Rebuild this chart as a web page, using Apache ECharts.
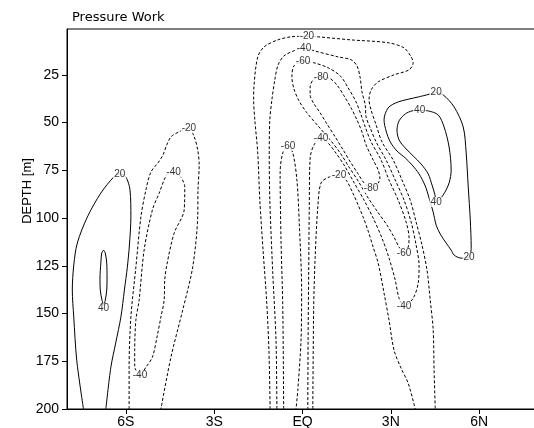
<!DOCTYPE html>
<html>
<head>
<meta charset="utf-8">
<script src="https://cdn.jsdelivr.net/npm/echarts@6/dist/echarts.min.js"></script>
<style>
html, body { margin: 0; padding: 0; background: #fff; }
#chart { width: 534px; height: 428px; }
</style>
</head>
<body>
<div id="chart"></div>
<script>
// tick positions
const latTicks = [-6, -3, 0, 3, 6];
const depthTicks = [25, 50, 75, 100, 125, 150, 175, 200];

// contour lines, [latitude, depth]
const pos20West = [[-7.44,200],[-7.67,174.4],[-7.77,151.9],[-7.82,137.7],[-7.77,124.6],[-7.65,113.1],[-7.31,99.5],[-6.85,86.9],[-6.41,78.5],[-6.21,76.9],[-6.00,78.5],[-5.86,85.3],[-5.83,99.5],[-5.88,114.1],[-5.95,125.7],[-6.05,137.7],[-6.17,151.9],[-6.34,165.0],[-6.51,178.1],[-6.68,200]];
const pos40West = [[-6.76,116.8],[-6.70,118.3],[-6.65,123.6],[-6.64,131.4],[-6.65,137.7],[-6.70,143.0],[-6.75,145.6],[-6.81,143.0],[-6.87,137.7],[-6.88,131.4],[-6.85,123.6],[-6.82,118.3],[-6.76,116.8]];
const neg20West = [[-5.89,200],[-5.89,178.1],[-5.83,151.9],[-5.66,125.7],[-5.49,99.5],[-5.32,85.3],[-5.15,75.9],[-4.91,71.1],[-4.74,67.0],[-4.61,61.7],[-4.47,57.5],[-4.20,54.9],[-3.86,53.0],[-3.68,57.4],[-3.56,64.3],[-3.51,72.2],[-3.55,85.3],[-3.56,99.5],[-3.73,125.7],[-4.07,148.2],[-4.47,172.9],[-4.81,200]];
const neg40West = [[-4.38,76.2],[-4.61,77.4],[-4.87,87.0],[-5.10,95.8],[-5.38,116.8],[-5.55,143.0],[-5.66,153.5],[-5.70,169.2],[-5.70,177.6],[-5.52,182.3],[-5.32,178.1],[-5.10,172.9],[-4.93,161.3],[-4.81,151.9],[-4.70,143.0],[-4.68,132.5],[-4.61,124.6],[-4.36,107.9],[-4.02,95.8],[-4.00,83.7],[-4.19,77.4],[-4.38,76.2]];

const neg20Outer = [[-1.10,200],[-1.14,169.2],[-1.22,143.0],[-1.34,116.8],[-1.45,90.6],[-1.52,65.9],[-1.62,48.6],[-1.66,38.1],[-1.65,31.3],[-1.52,15.6],[-1.30,10.3],[-0.84,6.7],[-0.39,5.1],[0.15,4.8],[0.53,5.1],[1.65,6.7],[2.91,8.2],[3.45,10.9],[3.69,15.6],[3.76,18.7],[3.62,22.4],[3.11,25.0],[2.57,28.7],[2.33,32.9],[2.26,38.1],[2.33,43.4],[2.50,51.2],[2.70,60.1],[3.08,69.6],[3.38,80.1],[3.66,90.6],[3.86,102.1],[4.06,114.2],[4.23,127.3],[4.34,143.0],[4.44,158.7],[4.47,179.7],[4.51,200]];
const neg40Main = [[-0.87,200],[-0.90,164.0],[-1.01,128.8],[-1.11,90.6],[-1.13,64.3],[-1.11,48.6],[-1.04,38.1],[-0.94,27.6],[-0.83,19.8],[-0.63,15.1],[-0.29,12.4],[0.05,10.9],[0.39,12.4],[1.21,15.6],[1.65,17.1],[1.85,20.3],[1.96,26.6],[2.02,33.9],[2.13,40.7],[2.16,47.0],[2.30,52.8],[2.50,60.1],[2.84,69.6],[3.15,80.1],[3.45,90.6],[3.69,102.1],[3.86,114.2],[3.96,124.7],[3.93,134.1],[3.76,142.0],[3.45,146.2],[3.28,142.0],[3.15,132.5],[2.94,121.0],[2.70,110.5],[2.40,100.0],[2.09,90.6],[1.72,80.6],[1.41,72.2],[1.11,65.4],[0.87,60.7],[0.63,58.1],[0.39,61.7],[0.26,68.5],[0.23,94.2],[0.21,128.8],[0.19,164.0],[0.18,200]];
const neg60Arch = [[-0.64,200],[-0.67,146.7],[-0.73,111.5],[-0.76,76.4],[-0.67,65.9],[-0.49,62.2],[-0.33,65.9],[-0.19,80.1],[-0.11,102.6],[-0.03,137.8],[-0.05,164.0],[-0.16,190.2],[-0.22,200]];
const neg60Loop = [[0.02,17.7],[0.39,18.7],[0.87,21.3],[1.28,25.5],[1.55,31.8],[1.82,39.2],[1.99,46.0],[2.13,52.3],[2.33,60.1],[2.67,69.6],[2.94,80.1],[3.25,90.6],[3.52,102.1],[3.62,110.5],[3.59,115.2],[3.45,118.4],[3.28,115.2],[3.11,110.0],[2.87,103.7],[2.53,96.3],[2.19,88.5],[1.89,80.6],[1.58,73.3],[1.28,65.9],[0.94,59.1],[0.53,51.8],[0.15,44.9],[-0.12,38.6],[-0.29,32.4],[-0.36,26.1],[-0.29,20.3],[0.02,17.7]];
const neg80Loop = [[0.63,26.1],[0.90,26.6],[1.17,30.3],[1.41,36.0],[1.65,42.3],[1.85,48.6],[2.02,54.9],[2.16,61.7],[2.40,69.6],[2.57,74.8],[2.63,79.1],[2.53,82.7],[2.33,84.3],[2.09,81.6],[1.89,76.9],[1.65,71.2],[1.38,64.3],[1.11,57.5],[0.83,50.7],[0.60,44.9],[0.39,40.2],[0.26,35.5],[0.26,31.3],[0.39,27.1],[0.63,26.1]];
const neg20Inner = [[0.35,200],[0.38,146.7],[0.43,120.5],[0.52,94.2],[0.63,81.6],[0.91,78.5],[1.24,77.5],[1.48,80.1],[1.71,86.9],[1.89,93.2],[2.06,99.5],[2.23,106.8],[2.40,115.2],[2.57,123.6],[2.77,139.3],[2.94,153.5],[3.11,169.2],[3.35,178.7],[3.59,186.5],[3.83,200]];

const pos20East = [[4.54,34.3],[3.93,36.6],[3.25,39.2],[2.91,42.3],[2.77,48.6],[2.84,54.4],[2.98,60.1],[3.21,64.9],[3.49,68.5],[3.72,72.2],[3.96,76.9],[4.17,83.2],[4.30,89.5],[4.44,96.9],[4.54,103.7],[4.68,108.4],[4.88,113.1],[5.05,116.8],[5.15,119.4],[5.39,121.0],[5.66,120.5],[5.73,115.2],[5.70,101.1],[5.63,83.7],[5.56,65.9],[5.46,52.3],[5.15,41.8],[4.78,35.5],[4.54,34.3]];
const pos40East = [[3.98,43.6],[4.27,43.9],[4.61,46.0],[4.81,52.3],[4.98,62.8],[5.05,74.8],[4.98,81.6],[4.78,87.9],[4.54,91.6],[4.50,87.9],[4.40,82.7],[4.27,76.9],[4.03,71.7],[3.76,67.5],[3.49,63.3],[3.28,59.1],[3.21,53.9],[3.28,49.1],[3.49,45.5],[3.72,43.9],[3.98,43.6]];

// contour labels, [latitude, depth, text]
const contourLabels = [
    [-6.21, 76.9, '20'], [-6.76, 147.4, '40'], [-3.86, 53.0, '-20'], [-4.38, 76.2, '-40'], [-5.52, 182.3, '-40'],
    [0.15, 4.8, '-20'], [0.05, 10.9, '-40'], [0.02, 17.7, '-60'], [0.63, 26.1, '-80'],
    [-0.49, 62.2, '-60'], [0.63, 58.1, '-40'], [1.24, 77.5, '-20'], [2.33, 84.3, '-80'],
    [3.45, 118.4, '-60'], [3.45, 146.2, '-40'],
    [4.54, 34.3, '20'], [3.98, 43.6, '40'], [4.54, 91.6, '40'], [5.66, 120.5, '20']
];

const solidLines = [pos20West, pos40West, pos20East, pos40East];
const dashedLines = [neg20West, neg40West, neg20Outer, neg40Main, neg60Arch, neg60Loop, neg80Loop, neg20Inner];

const FONT = 'Liberation Sans, Arial, sans-serif';

function latName(v) {
    if (v === 0) return 'EQ';
    return Math.abs(v) + (v < 0 ? 'S' : 'N');
}

function lineSeries(pts, dashed) {
    return {
        type: 'line',
        data: pts,
        showSymbol: false,
        smooth: 0.3,
        silent: true,
        z: 2,
        lineStyle: { color: '#000', width: 1, type: dashed ? [3, 2] : 'solid' }
    };
}

const chart = echarts.init(document.getElementById('chart'), null, { renderer: 'canvas' });

const series = solidLines.map(p => lineSeries(p, false))
    .concat(dashedLines.map(p => lineSeries(p, true)));

series.push({
    type: 'scatter',
    data: contourLabels,
    symbolSize: 1,
    itemStyle: { color: 'rgba(0,0,0,0)' },
    silent: true,
    z: 5,
    label: {
        show: true,
        position: 'inside',
        formatter: p => p.data[2],
        fontSize: 10,
        fontFamily: FONT,
        color: '#000',
        backgroundColor: '#fff',
        padding: [0, 1]
    }
});

chart.setOption({
    animation: false,
    backgroundColor: '#fff',
    title: {
        text: 'Pressure Work',
        left: 72,
        top: 11,
        padding: 0,
        textStyle: { fontSize: 13, fontWeight: 'normal', color: '#000', fontFamily: 'DejaVu Sans' }
    },
    grid: {
        left: 67, top: 29, width: 471, height: 380,
        show: true, borderColor: '#000', borderWidth: 1,
        outerBoundsMode: 'none'
    },
    xAxis: {
        type: 'value', min: -8, max: 8,
        axisLine: { show: true, onZero: false, lineStyle: { color: '#000', width: 1 } },
        axisTick: { show: true, length: 5, customValues: latTicks, lineStyle: { color: '#000' } },
        axisLabel: { customValues: latTicks, formatter: latName, color: '#000', fontSize: 14, fontFamily: FONT, margin: 6 },
        splitLine: { show: false }
    },
    yAxis: {
        type: 'value', inverse: true, min: 1, max: 200,
        axisLine: { show: true, onZero: false, lineStyle: { color: '#000', width: 1 } },
        axisTick: { show: true, length: 5, customValues: depthTicks, lineStyle: { color: '#000' } },
        axisLabel: { customValues: depthTicks, color: '#000', fontSize: 14, fontFamily: FONT, margin: 8 },
        splitLine: { show: false }
    },
    graphic: [{
        type: 'text',
        x: 27,
        y: 191,
        rotation: Math.PI / 2,
        style: { text: 'DEPTH [m]', align: 'center', verticalAlign: 'middle', fontSize: 13, fontFamily: FONT, fill: '#000' }
    }],
    series: series
});
</script>
</body>
</html>
